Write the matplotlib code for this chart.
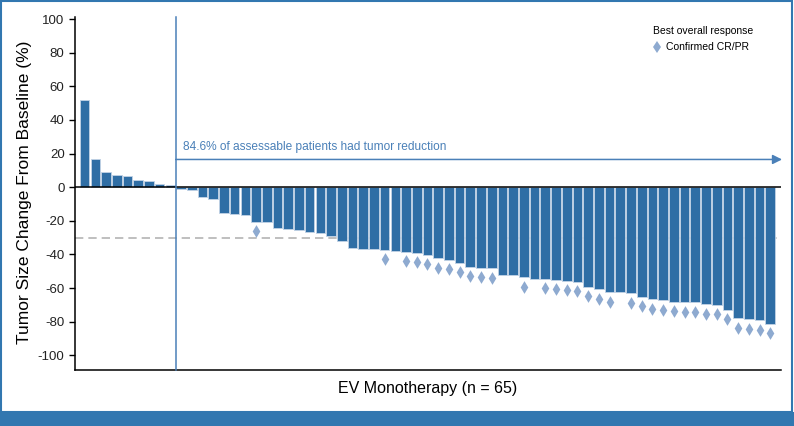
import matplotlib
matplotlib.use("Agg")
import numpy as np
import matplotlib.pyplot as plt
from matplotlib.patches import Rectangle
from matplotlib.lines import Line2D

# tumor size change per patient (%), sorted
change = [52, 16.7, 8.9, 7.3, 6.7, 4.3, 3.6, 2.0, 1.2,
          -0.8, -1.4, -6.0, -7.0, -15.1, -15.9, -16.5, -20.5, -20.8, -24.4,
          -25.0, -25.6, -26.8, -27.4, -29.2, -32.1, -36.3, -36.7, -36.7, -37.3,
          -37.9, -38.5, -39.1, -40.1, -42.3, -43.3, -44.9, -47.3, -48.0, -48.2,
          -52.4, -52.4, -53.6, -54.6, -54.6, -55.2, -55.6, -56.5, -59.2, -60.7,
          -62.5, -62.5, -63.1, -65.1, -66.7, -67.3, -68.1, -68.5, -68.5, -69.7,
          -69.9, -73.0, -78.0, -78.6, -79.2, -81.2]
# patients with confirmed CR/PR (index in the sorted list)
confirmed = [16, 28, 30, 31, 32, 33, 34, 35, 36, 37, 38, 41,
             43, 44, 45, 46, 47, 48, 49,
             51, 52, 53, 54, 55, 56, 57, 58, 59, 60, 61, 62, 63, 64]
yticks = [-100, -80, -60, -40, -20, 0, 20, 40, 60, 80, 100]

bar_col = "#2f6ea5"
dia_col = "#8eaad0"
line_col = "#4a80b8"

plt.rcParams['font.family'] = ['Liberation Sans', 'DejaVu Sans']
plt.rcParams['axes.unicode_minus'] = False

fig = plt.figure(figsize=(7.94, 4.26), dpi=100)
ax = fig.add_axes([75/794, 56/426, (781-75)/794, (370-14)/426])

x = np.arange(len(change))
ax.bar(x, change, width=0.9, color=bar_col, edgecolor="#c3d3e6", linewidth=0.6, zorder=2)

cx = [x[i] for i in confirmed]
cy = [change[i] - 5.5 for i in confirmed]
ax.scatter(cx, cy, marker="d", s=42, color=dia_col, linewidths=0, zorder=3)

ax.axhline(0, color="black", lw=1.1, zorder=4)
ax.axhline(-30, color="#b4b4b4", lw=1.2, ls=(0, (5, 3)), zorder=1)
ax.plot([8.5, 8.5], [-108.7, 101], color=line_col, lw=1.1, zorder=5, clip_on=False)
ax.annotate("", xy=(65.1, 16.5), xytext=(8.5, 16.5), annotation_clip=False,
            arrowprops=dict(arrowstyle="-|>", color=line_col, lw=1.1,
                            mutation_scale=14, shrinkA=0, shrinkB=0))
ax.text(9.2, 20.5, "84.6% of assessable patients had tumor reduction",
        color=line_col, fontsize=8.6, va="bottom")

ax.set_xlim(-0.9, 65.0)
ax.set_ylim(-108.7, 103)
ax.set_yticks(yticks)
ax.set_xticks([])
ax.tick_params(axis="y", labelsize=9.5, length=4, width=1, direction="out",
               labelcolor="#222222")
for s in ["top", "right"]:
    ax.spines[s].set_visible(False)
ax.spines["left"].set_bounds(-108.7, 101.5)
ax.spines["left"].set_linewidth(1.1)
ax.spines["bottom"].set_linewidth(1.1)
ax.set_ylabel("Tumor Size Change From Baseline (%)", fontsize=12.5, labelpad=4)
ax.set_xlabel("EV Monotherapy (n = 65)", fontsize=11.5,
              family=['Liberation Sans Narrow', 'Liberation Sans', 'DejaVu Sans'],
              labelpad=8)

# legend
fig.text(653/794, 1 - 31/426, "Best overall response", fontsize=7.5, va="center")
fig.lines.append(Line2D([657/794], [1 - 47/426], marker="d", ms=6, color=dia_col,
                        lw=0, markeredgewidth=0, transform=fig.transFigure))
fig.text(666/794, 1 - 47/426, "Confirmed CR/PR", fontsize=7.5, va="center")

# frame and bottom band
fig.patches.append(Rectangle((1/794, 14/426), 791/794, 411/426, transform=fig.transFigure,
                             fill=False, edgecolor="#3277b0", lw=1.5))
fig.patches.append(Rectangle((0, 0), 1, 14/426, transform=fig.transFigure,
                             facecolor="#3277b0", edgecolor="none"))

fig.savefig("out.png", dpi=100)
